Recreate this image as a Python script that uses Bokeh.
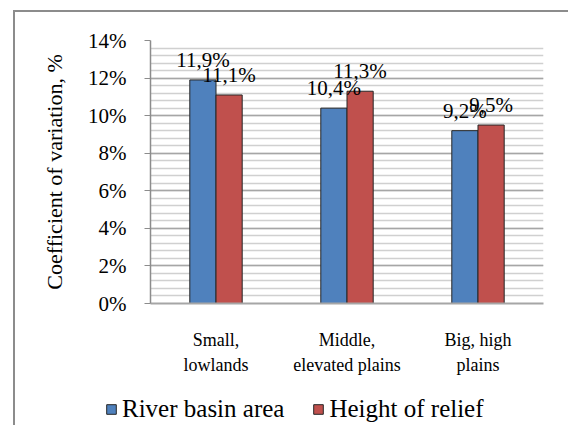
from bokeh.plotting import figure
from bokeh.layouts import column
from bokeh.models import (ColumnDataSource, FactorRange, SingleIntervalTicker, NumeralTickFormatter,
                          Legend, LegendItem, Range1d)
from bokeh.transform import dodge
from bokeh.embed import file_html
from bokeh.resources import INLINE
from bokeh.core.properties import value

categories = ["Small,\nlowlands", "Middle,\nelevated plains", "Big, high\nplains"]
river_basin_area = [0.119, 0.104, 0.092]
height_of_relief = [0.111, 0.113, 0.095]
series_names = ["River basin area", "Height of relief"]
colors = ["#4F81BD", "#C0504D"]

def fmt(v):
    return ("%.1f%%" % (v * 100)).replace(".", ",")

src = ColumnDataSource(dict(
    cat=categories,
    a=river_basin_area,
    b=height_of_relief,
    la=[fmt(v) for v in river_basin_area],
    lb=[fmt(v) for v in height_of_relief],
))

FONT = "'Liberation Serif', serif"

p = figure(width=553, height=380, x_range=FactorRange(*categories), y_range=Range1d(0, 0.14),
           output_backend="svg", toolbar_location=None,
           min_border_left=135, min_border_right=25, min_border_top=28, min_border_bottom=89)
p.outline_line_color = None
p.background_fill_color = "white"

p.vbar(x=dodge("cat", -0.1, range=p.x_range), top="a", width=0.2, source=src,
       fill_color=colors[0], line_color="#262626", line_width=1)
p.vbar(x=dodge("cat", 0.1, range=p.x_range), top="b", width=0.2, source=src,
       fill_color=colors[1], line_color="#262626", line_width=1)

for col, lab, off in (("a", "la", -0.1), ("b", "lb", 0.1)):
    p.text(x=dodge("cat", off, range=p.x_range), y=col, text=lab, source=src,
           text_font=value(FONT), text_font_size="21px", text_color="black",
           text_align="center", text_baseline="alphabetic", y_offset=-20)

# y axis
p.yaxis.ticker = SingleIntervalTicker(interval=0.02, num_minor_ticks=5)
p.yaxis.formatter = NumeralTickFormatter(format="0%")
p.yaxis.major_label_text_font = FONT
p.yaxis.major_label_text_font_size = "21px"
p.yaxis.major_label_text_color = "black"
p.yaxis.major_label_standoff = 18
p.yaxis.major_tick_out = 6
p.yaxis.major_tick_in = 0
p.yaxis.major_tick_line_color = "#8c8c8c"
p.yaxis.minor_tick_line_color = None
p.yaxis.axis_line_color = "#8c8c8c"
p.yaxis.axis_line_width = 1.5
p.yaxis.axis_label = "Coefficient of variation, %"
p.yaxis.axis_label_text_font = FONT
p.yaxis.axis_label_text_font_size = "22px"
p.yaxis.axis_label_text_font_style = "normal"
p.yaxis.axis_label_text_color = "black"
p.yaxis.axis_label_standoff = 18

# x axis
p.xaxis.major_label_text_font = FONT
p.xaxis.major_label_text_font_size = "18px"
p.xaxis.major_label_text_color = "black"
p.xaxis.major_label_text_line_height = 1.28
p.xaxis.major_label_standoff = 20
p.xaxis.major_tick_line_color = None
p.xaxis.minor_tick_line_color = None
p.xaxis.axis_line_color = "#a6a6a6"
p.xaxis.axis_line_width = 2

# grid
p.xgrid.grid_line_color = None
p.ygrid.grid_line_color = "#a6a6a6"
p.ygrid.grid_line_width = 1.5
p.ygrid.minor_grid_line_color = "#d0d0d0"
p.ygrid.minor_grid_line_width = 1.5

# legend strip below the chart (bars lie outside its y range, only the legend shows)
p2 = figure(width=553, height=33, x_range=p.x_range, y_range=Range1d(1, 2),
            x_axis_type=None, y_axis_type=None, min_border=0,
            output_backend="svg", toolbar_location=None,
            styles={"transform": "translate(-45px, 0px)"})
p2.outline_line_color = None
p2.background_fill_color = None
p2.border_fill_color = None
p2.grid.visible = False
la = p2.vbar(x=dodge("cat", -0.1, range=p2.x_range), top="a", width=0.2, source=src,
             fill_color=colors[0], line_color="#262626", line_width=1)
lb = p2.vbar(x=dodge("cat", 0.1, range=p2.x_range), top="b", width=0.2, source=src,
             fill_color=colors[1], line_color="#262626", line_width=1)
legend = Legend(items=[LegendItem(label=series_names[0], renderers=[la]),
                       LegendItem(label=series_names[1], renderers=[lb])],
                orientation="horizontal", location=(0, 2),
                label_text_font=FONT, label_text_font_size="25px",
                label_text_color="black",
                glyph_width=12, glyph_height=12, label_standoff=5, spacing=28,
                padding=0, margin=0, border_line_color=None, background_fill_alpha=0)
p2.add_layout(legend, "center")

layout = column(p, p2, spacing=0,
                styles={"border-top": "2px solid #8c8c8c", "border-left": "2px solid #8c8c8c",
                        "transform": "translate(13px, 10px)"})

open("out.html", "w").write(file_html(layout, INLINE))
